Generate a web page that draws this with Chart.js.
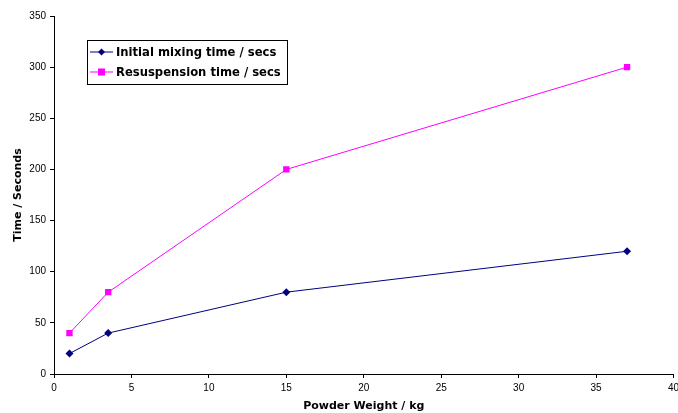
<!DOCTYPE html>
<html>
<head>
<meta charset="utf-8">
<script src="https://cdn.jsdelivr.net/npm/chart.js"></script>
<style>
  html, body { margin: 0; padding: 0; background: #fff; }
  #wrap { width: 678px; height: 413px; position: relative; }
</style>
</head>
<body>
<div id="wrap"><canvas id="c"></canvas></div>
<script>
// Powder weight (kg) for each measurement
const weights = [1, 3.5, 15, 37];
const mixingTimes = [20, 40, 80, 120];
const resuspensionTimes = [40, 80, 200, 300];
const seriesNames = ['Initial mixing time / secs', 'Resuspension time / secs'];

const toPoints = (ys) => ys.map((y, i) => ({ x: weights[i], y: y }));

// Boxed legend drawn inside the plot, like the original spreadsheet chart
const boxLegend = {
    id: 'boxLegend',
    afterDraw(chart) {
        const ctx = chart.ctx;
        const x0 = 87, y0 = 40, w = 200, h = 44;
        ctx.save();
        ctx.fillStyle = '#fff';
        ctx.fillRect(x0, y0, w, h);
        ctx.strokeStyle = '#000';
        ctx.lineWidth = 1;
        ctx.strokeRect(x0 + 0.5, y0 + 0.5, w, h);
        ctx.font = "bold 11.6px 'DejaVu Sans', Verdana, sans-serif";
        ctx.textBaseline = 'middle';
        chart.data.datasets.forEach((ds, i) => {
            const cy = y0 + 12 + i * 20;
            ctx.strokeStyle = ds.borderColor;
            ctx.beginPath();
            ctx.moveTo(x0 + 3, cy);
            ctx.lineTo(x0 + 26, cy);
            ctx.stroke();
            ctx.fillStyle = ds.borderColor;
            if (ds.pointStyle === 'rect') {
                ctx.fillRect(x0 + 11, cy - 3.5, 7, 7);
            } else {
                ctx.beginPath();
                ctx.moveTo(x0 + 14.5, cy - 3.5);
                ctx.lineTo(x0 + 18, cy);
                ctx.lineTo(x0 + 14.5, cy + 3.5);
                ctx.lineTo(x0 + 11, cy);
                ctx.closePath();
                ctx.fill();
            }
            ctx.fillStyle = '#000';
            ctx.fillText(ds.label, x0 + 29, cy + 1);
        });
        ctx.restore();
    }
};

const tickFont = { family: "'Liberation Sans', Arial, sans-serif", size: 10 };
const titleFont = { family: "'DejaVu Sans', Verdana, sans-serif", size: 11, weight: 'bold' };

new Chart(document.getElementById('c'), {
    type: 'line',
    data: {
        datasets: [{
            label: seriesNames[0],
            data: toPoints(mixingTimes),
            borderColor: '#000080',
            backgroundColor: '#000080',
            borderWidth: 1,
            pointStyle: 'rectRot',
            pointRadius: 4,
            pointBorderWidth: 0,
            tension: 0
        }, {
            label: seriesNames[1],
            data: toPoints(resuspensionTimes),
            borderColor: '#FF00FF',
            backgroundColor: '#FF00FF',
            borderWidth: 1,
            pointStyle: 'rect',
            pointRadius: 4.5,
            pointBorderWidth: 0,
            tension: 0
        }]
    },
    options: {
        responsive: true,
        maintainAspectRatio: false,
        animation: false,
        layout: { padding: { left: 0, right: 0, top: 16, bottom: 0 } },
        plugins: {
            legend: { display: false },
            tooltip: { enabled: false }
        },
        scales: {
            x: {
                type: 'linear',
                min: 0,
                max: 40,
                ticks: { stepSize: 5, color: '#000', font: tickFont, padding: 4, maxRotation: 0 },
                grid: { drawOnChartArea: false, drawTicks: true, tickLength: 4, color: '#000' },
                border: { color: '#000', width: 1 },
                title: { display: true, text: 'Powder Weight / kg', color: '#000', font: titleFont, padding: { top: 5, bottom: 0 } },
                afterFit(scale) { scale.height = 39; scale.paddingLeft = 0; scale.paddingRight = 0; }
            },
            y: {
                min: 0,
                max: 350,
                ticks: { stepSize: 50, color: '#000', font: tickFont, padding: 4 },
                grid: { drawOnChartArea: false, drawTicks: true, tickLength: 4, color: '#000' },
                border: { color: '#000', width: 1 },
                title: { display: true, text: 'Time / Seconds', color: '#000', font: titleFont, padding: { top: 12, bottom: 4 } },
                afterFit(scale) { scale.width = 54; scale.paddingTop = 0; scale.paddingBottom = 0; }
            }
        }
    },
    plugins: [boxLegend]
});
</script>
</body>
</html>
